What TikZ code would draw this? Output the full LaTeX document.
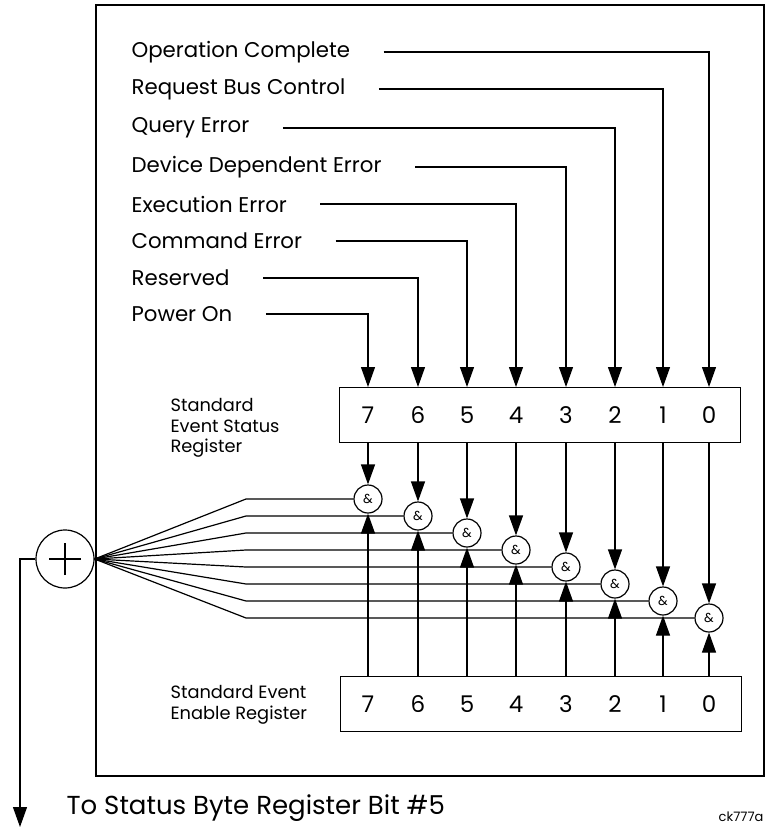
\documentclass[tikz,border=0pt]{standalone}
\usepackage{fontspec}
\setmainfont{Poppins}
\usetikzlibrary{arrows.meta,positioning}

\begin{document}
\begin{tikzpicture}[x=1pt,y=-1pt,line width=1.2pt,
  lbl/.style={anchor=west,inner sep=0pt,font=\fontsize{21.3}{22}\selectfont},
  regname/.style={anchor=west,align=left,inner sep=0pt,font=\fontsize{17.8}{20.5}\selectfont},
  regbox/.style={draw,anchor=north west,minimum width=401pt,minimum height=55pt,inner sep=0pt},
  bit/.style={inner sep=0pt,font=\fontsize{23}{24}\selectfont},
  andgate/.style={circle,draw,minimum size=28pt,inner sep=0pt,font=\fontsize{13}{13}\selectfont},
  orgate/.style={circle,draw,minimum size=58pt,inner sep=0pt},
  arr/.style={-{Triangle[length=20pt,width=14pt]}}]

\useasboundingbox (0,0) rectangle (767,829);
\draw (96,5) rectangle (764,776);

% the two registers
\node[regbox] (sesr) at (339,387) {};
\node[regbox] (sere) at (340,676) {};
\node[regname] (sname) at (170,428) {Standard\\Event Status\\Register};
\node[regname] (ename) at (170,705) {Standard Event\\Enable Register};

\foreach \b/\x in {7/368,6/418,5/467,4/516,3/566,2/615,1/663,0/709} {
  \node[bit] (s\b) at (\x,415) {\b};
  \node[bit] (e\b) at (\x,704) {\b};
  \node[andgate] (g\b) at (\x,{499+17*(7-\b)}) {\&};
  \draw[arr] (s\b |- sesr.south) -- (g\b.north);
  \draw[arr] (e\b |- sere.north) -- (g\b.south);
}

% event inputs
\foreach \n/\t/\y/\b in {oc/Operation Complete/52/0,rbc/Request Bus Control/89/1,
    qe/Query Error/128/2,dde/Device Dependent Error/167/3,ee/Execution Error/204/4,
    ce/Command Error/241/5,res/Reserved/278/6,po/Power On/314/7} {
  \node[lbl] (\n) at (131,\y) {\t};
  \draw[arr] ([xshift=33pt]\n.east) -| (s\b |- sesr.north);
}

% summary
\node[orgate] (or) at (65,559) {};
\draw ([xshift=-16pt]or.center) -- ([xshift=16pt]or.center)
      ([yshift=-16pt]or.center) -- ([yshift=16pt]or.center);
\foreach \b in {7,...,0}
  \draw (or.east) -- (246,{499+17*(7-\b)}) -- (g\b.west);

\coordinate (out) at (20,827);
\draw[arr] (or.west) -| (out);
\node[anchor=west,inner sep=0pt,font=\fontsize{26}{28}\selectfont] (dest) at (66,808) {To Status Byte Register Bit \#5};
\node[anchor=east,inner sep=0pt,font=\fontsize{13}{14}\selectfont] (fig) at (764,817) {ck777a};

\end{tikzpicture}
\end{document}
